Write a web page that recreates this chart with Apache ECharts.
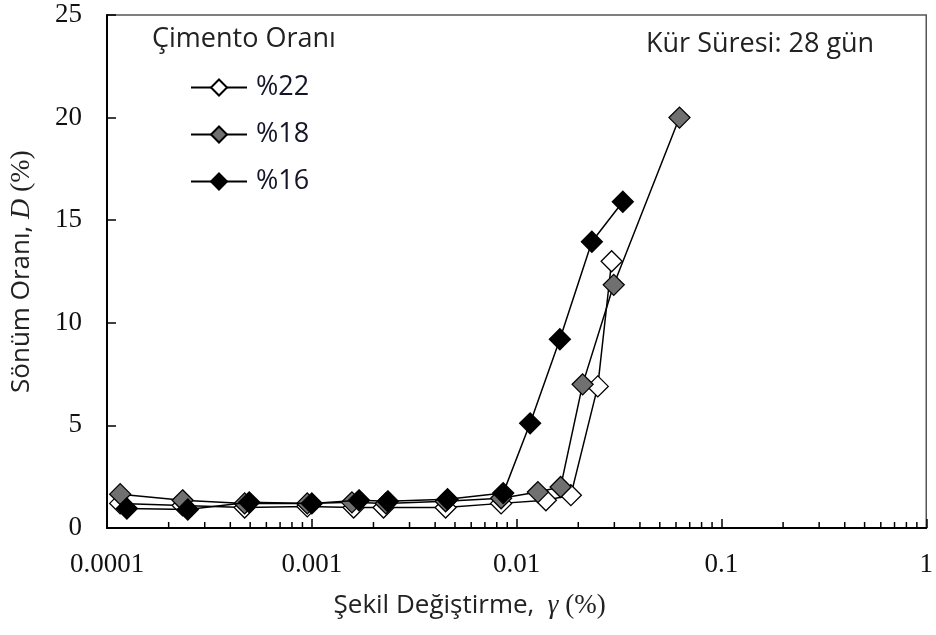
<!DOCTYPE html>
<html>
<head>
<meta charset="utf-8">
<title>Sönüm Oranı - Şekil Değiştirme</title>
<script src="https://cdn.jsdelivr.net/npm/echarts@6/dist/echarts.min.js"></script>
<style>
  html, body { margin: 0; padding: 0; background: #fff; }
  #chart { width: 936px; height: 635px; }
</style>
</head>
<body>
<div id="chart"></div>
<script>
// Shear strain (%) and damping ratio (%) for each cement ratio
const strain22 = [0.000116, 0.000234, 0.00047, 0.00095, 0.0016, 0.00224, 0.0045, 0.0084, 0.0139, 0.0184, 0.0249, 0.0291];
const damping22 = [1.2, 1.1, 1.0, 1.05, 1.0, 1.0, 1.0, 1.2, 1.35, 1.6, 6.9, 13.0];

const strain18 = [0.000116, 0.000234, 0.00047, 0.00095, 0.00157, 0.0023, 0.0045, 0.0084, 0.0127, 0.0164, 0.0210, 0.0298, 0.0624];
const damping18 = [1.65, 1.35, 1.2, 1.2, 1.25, 1.2, 1.3, 1.45, 1.75, 2.0, 7.0, 11.85, 20.0];

const strain16 = [0.000125, 0.000248, 0.000495, 0.001, 0.0017, 0.00235, 0.0046, 0.0086, 0.01164, 0.01626, 0.0233, 0.0330];
const damping16 = [0.95, 0.9, 1.25, 1.2, 1.35, 1.3, 1.4, 1.7, 5.1, 9.2, 13.95, 15.9];

const seriesNames = ['%22', '%18', '%16'];
const markerFills = ['#ffffff', '#707070', '#000000'];

// Axis tick labels
const xTickLabels = ['0.0001', '0.001', '0.01', '0.1', '1'];
const yTicks = [0, 5, 10, 15, 20, 25];

// Minor tick positions on the logarithmic strain axis (2..9 within each decade)
const decades = [0.0001, 0.001, 0.01, 0.1];
const minorSteps = [2, 3, 4, 5, 6, 7, 8, 9];

const sansFont = '"Open Sans", "Noto Sans", sans-serif';
const serifFont = '"Liberation Serif", "DejaVu Serif", serif';

function zip(xs, ys) {
  return xs.map((x, i) => [x, ys[i]]);
}

const minorTicks = [];
decades.forEach(d => minorSteps.forEach(s => minorTicks.push([+(d * s).toPrecision(3), 0])));

const chart = echarts.init(document.getElementById('chart'), null, { renderer: 'canvas' });

const dataSets = [zip(strain22, damping22), zip(strain18, damping18), zip(strain16, damping16)];

const lineSeries = dataSets.map((data, i) => ({
  name: seriesNames[i],
  type: 'line',
  data: data,
  symbol: 'diamond',
  symbolSize: 21,
  z: 3 + i,
  lineStyle: { color: '#000', width: 1.5 },
  itemStyle: { color: markerFills[i], borderColor: '#000', borderWidth: 1.3 },
  emphasis: { disabled: true },
  animation: false
}));

const option = {
  animation: false,
  backgroundColor: '#fff',
  grid: {
    left: 107, right: 6, top: 15, bottom: 107,
    show: true, borderColor: '#555', borderWidth: 1.5, backgroundColor: 'transparent'
  },
  xAxis: {
    type: 'log',
    logBase: 10,
    min: 0.0001,
    max: 1,
    name: 'Şekil Değiştirme,  {g|γ} {p|(%)}',
    nameLocation: 'middle',
    nameGap: 64,
    nameTextStyle: {
      fontFamily: sansFont, fontSize: 26, color: '#222',
      padding: [0, 94, 0, 0],
      rich: {
        g: { fontFamily: serifFont, fontStyle: 'italic', fontSize: 27, color: '#222' },
        p: { fontFamily: serifFont, fontSize: 27, color: '#222' }
      }
    },
    axisLine: { show: true, onZero: false, lineStyle: { color: '#000', width: 2 } },
    axisTick: { show: true, inside: true, length: 9, lineStyle: { color: '#000', width: 1.5 } },
    minorTick: { show: false },
    splitLine: { show: false },
    axisLabel: {
      margin: 23,
      fontFamily: serifFont, fontSize: 27, color: '#111',
      formatter: function (v) {
        const idx = Math.round(Math.log10(v) + 4);
        return xTickLabels[idx] !== undefined ? xTickLabels[idx] : '';
      }
    }
  },
  yAxis: {
    type: 'value',
    min: yTicks[0],
    max: yTicks[yTicks.length - 1],
    interval: 5,
    name: 'Sönüm Oranı, {d|D} {p|(%)}',
    nameLocation: 'middle',
    nameGap: 71,
    nameRotate: 90,
    nameTextStyle: {
      fontFamily: sansFont, fontSize: 26, color: '#222',
      rich: {
        d: { fontFamily: serifFont, fontStyle: 'italic', fontSize: 28, color: '#222' },
        p: { fontFamily: serifFont, fontSize: 28, color: '#222' }
      }
    },
    axisLine: { show: true, lineStyle: { color: '#000', width: 2 } },
    axisTick: { show: true, inside: true, length: 9, lineStyle: { color: '#000', width: 1.5 } },
    splitLine: { show: false },
    axisLabel: { margin: 25, fontFamily: serifFont, fontSize: 27, color: '#111' }
  },
  legend: {
    data: seriesNames,
    orient: 'vertical',
    left: 190,
    top: 74,
    padding: 0,
    itemWidth: 56,
    itemHeight: 20,
    itemGap: 20,
    selectedMode: false,
    textStyle: { fontFamily: sansFont, fontSize: 27, color: '#151528', padding: [12, 0, 0, 4] }
  },
  graphic: [
    {
      type: 'text', left: 152, top: 26,
      style: { text: 'Çimento Oranı', font: '27px ' + sansFont, fill: '#222' }
    },
    {
      type: 'text', left: 646, top: 31,
      style: { text: 'Kür Süresi: 28 gün', font: '27px ' + sansFont, fill: '#222' }
    }
  ],
  series: [
    {
      name: 'minor',
      type: 'custom',
      data: minorTicks,
      silent: true,
      z: 1,
      clip: false,
      renderItem: function (params, api) {
        const p = api.coord([api.value(0), api.value(1)]);
        return {
          type: 'line',
          shape: { x1: p[0], y1: p[1], x2: p[0], y2: p[1] - 6 },
          style: { stroke: '#000', lineWidth: 1.5 }
        };
      }
    }
  ].concat(lineSeries)
};

chart.setOption(option);
</script>
</body>
</html>
